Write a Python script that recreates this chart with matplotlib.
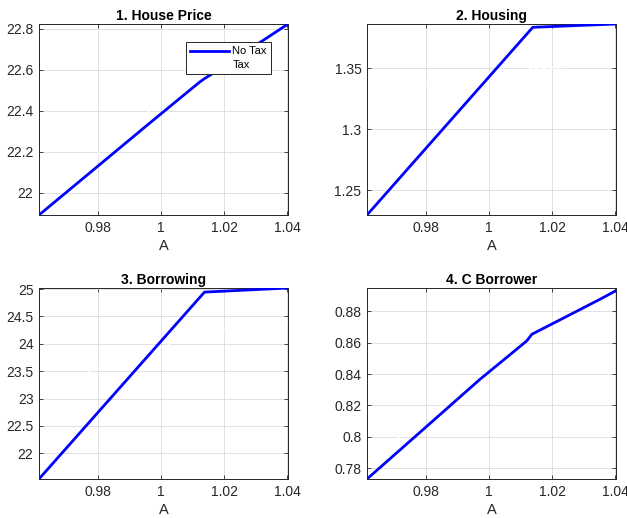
import numpy as np
import matplotlib
matplotlib.use("Agg")
import matplotlib.pyplot as plt

plt.rcParams['font.family'] = ['Liberation Sans', 'DejaVu Sans']

# no tax series (blue)
a1 = [0.9612, 0.9964, 1.0123, 1.0139, 1.0181, 1.0402]
p1 = [21.891, 22.341, 22.542, 22.559, 22.600, 22.824]

a2 = [0.9612, 1.0138, 1.0402]
p2 = [1.2299, 1.3837, 1.3864]

a3 = [0.9612, 1.0137, 1.0402]
p3 = [21.53, 24.945, 25.02]

a4 = [0.9612, 0.98, 0.997, 1.0055, 1.0119, 1.0135, 1.0236, 1.0353, 1.0402]
p4 = [0.7731, 0.8064, 0.8366, 0.8506, 0.8612, 0.8654, 0.8758, 0.8879, 0.8932]

# tax series (drawn in white, barely visible)
t1 = [21.95, 22.40, 22.60, 22.62, 22.66, 22.86]
t2 = [1.33, 1.35, 1.352]
t3 = [23.2, 24.2, 24.4]
t4 = [0.785, 0.812, 0.842, 0.856, 0.866, 0.870, 0.880, 0.892, 0.897]

titles = ["1. House Price", "2. Housing", "3. Borrowing", "4. C Borrower"]
ylims = [(21.891, 22.824), (1.2299, 1.3864), (21.53, 25.02), (0.7731, 0.8949)]
yticks = [[22, 22.2, 22.4, 22.6, 22.8], [1.25, 1.3, 1.35],
          [22, 22.5, 23, 23.5, 24, 24.5, 25],
          [0.78, 0.8, 0.82, 0.84, 0.86, 0.88]]
yticklabels = [["22", "22.2", "22.4", "22.6", "22.8"], ["1.25", "1.3", "1.35"],
               ["22", "22.5", "23", "23.5", "24", "24.5", "25"],
               ["0.78", "0.8", "0.82", "0.84", "0.86", "0.88"]]
xticks = [0.98, 1.0, 1.02, 1.04]
xticklabels = ["0.98", "1", "1.02", "1.04"]

xs = [a1, a2, a3, a4]
notax = [p1, p2, p3, p4]
tax = [t1, t2, t3, t4]

fig = plt.figure(figsize=(6.27, 5.18), dpi=100)
W, H = 627, 518
boxes = [(39, 24), (367, 24), (39, 288), (367, 288)]

for i in range(4):
    left, top = boxes[i]
    ax = fig.add_axes([left / W, (H - top - 191) / H, 249 / W, 191 / H])
    ax.plot(xs[i], notax[i], color='#0000ff', lw=2.0, label='No Tax', zorder=3)
    ax.plot(xs[i], tax[i], color='white', lw=1.0, ls='--', label='Tax', zorder=2)
    ax.set_xlim(0.9612, 1.0402)
    ax.set_ylim(*ylims[i])
    ax.set_xticks(xticks)
    ax.set_xticklabels(xticklabels)
    ax.set_yticks(yticks[i])
    ax.set_yticklabels(yticklabels[i])
    ax.grid(True, color='#dcdcdc', lw=0.6)
    ax.set_axisbelow(True)
    ax.tick_params(direction='in', length=3, width=0.6, top=True, right=True,
                   labelsize=10, colors='#262626', pad=4)
    for s in ax.spines.values():
        s.set_color('#262626')
        s.set_linewidth(0.7)
    ax.set_title(titles[i], fontsize=10, fontweight='bold', pad=3)
    ax.set_xlabel('A', fontsize=10.5, color='#262626', labelpad=3)
    if i == 0:
        leg = ax.legend(loc='upper right', fontsize=8, fancybox=False,
                        framealpha=1, edgecolor='#262626',
                        bbox_to_anchor=(0.955, 0.935), handlelength=3.5,
                        borderpad=0.4, labelspacing=0.3, handletextpad=0.3)
        leg.get_frame().set_linewidth(0.7)

fig.savefig('out.png', dpi=100)
